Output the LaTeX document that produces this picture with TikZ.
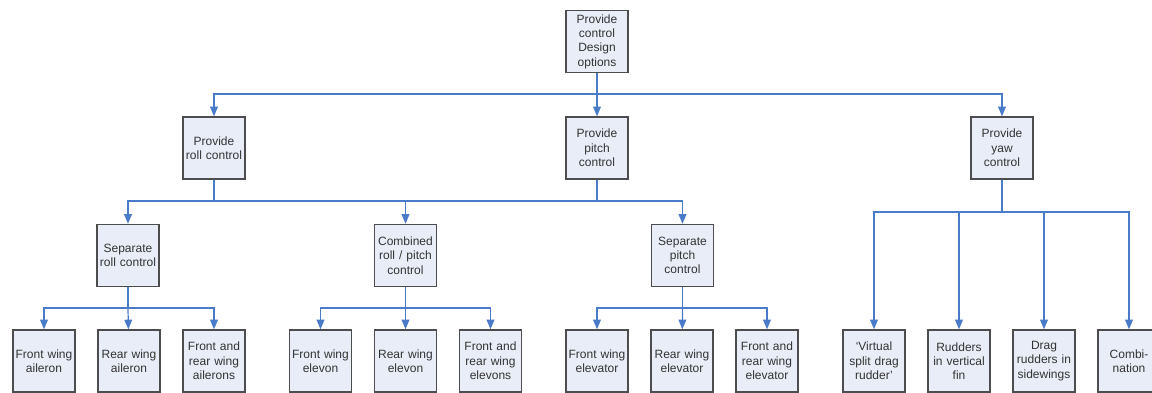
\documentclass[tikz,border=0pt]{standalone}
\usepackage{fontspec}
\setmainfont{Liberation Sans}
\usetikzlibrary{arrows}
\usetikzlibrary{positioning}

\definecolor{boxfill}{HTML}{E8EDF8}
\definecolor{boxline}{HTML}{4D4D4D}
\definecolor{boxtext}{HTML}{333333}
\definecolor{linkblue}{HTML}{4A7BC8}

\tikzset{
  box/.style={draw=boxline, line width=1.6pt, fill=boxfill, text=boxtext,
    text width=60pt, minimum height=62pt, inner sep=1pt, align=center,
    font=\fontsize{12}{14.3}\selectfont},
  link/.style={draw=linkblue, line width=1.2pt, -triangle 45},
  bus/.style={draw=linkblue, line width=1.2pt}
}

\begin{document}
\begin{tikzpicture}[x=1pt, y=-1pt]
    \useasboundingbox (0,0) rectangle (1152,392);
    \clip (0,0) rectangle (1152,392);

    % top level
    \node [box] (design) at (597,41.5) {Provide\\control\\Design\\options};

    \node [box] (roll) at (214,148) {Provide\\roll control};
    \node [box] (pitch) at (597,148) {Provide\\pitch\\control};
    \node [box] (yaw) at (1002,148) {Provide\\yaw\\control};

    % roll / pitch options
    \node [box] (sroll) at (128,255.5) {Separate\\roll control};
    \node [box] (comb) at (405.5,255.5) {Combined\\roll / pitch\\control};
    \node [box] (spitch) at (682.5,255.5) {Separate\\pitch\\control};

    \node [box] (fwail) at (44,361) {Front wing\\aileron};
    \node [box, right=21.4pt of fwail] (rwail) {Rear wing\\aileron};
    \node [box, right=21.4pt of rwail] (frail) {Front and\\rear wing\\ailerons};

    \node [box] (fwelv) at (320.5,361) {Front wing\\elevon};
    \node [box, right=21.4pt of fwelv] (rwelv) {Rear wing\\elevon};
    \node [box, right=21.4pt of rwelv] (frelv) {Front and\\rear wing\\elevons};

    \node [box] (fwelt) at (597,361) {Front wing\\elevator};
    \node [box, right=21.4pt of fwelt] (rwelt) {Rear wing\\elevator};
    \node [box, right=21.4pt of rwelt] (frelt) {Front and\\rear wing\\elevator};

    % yaw options
    \node [box] (virt) at (874,361) {‘Virtual\\split drag\\rudder’};
    \node [box, right=21.4pt of virt] (fin) {Rudders\\in vertical\\fin};
    \node [box, right=21.4pt of fin] (side) {Drag\\rudders in\\sidewings};
    \node [box, right=21.4pt of side] (combi) {Combi-\\nation};

    % bus points
    \coordinate (j0) at (597,94);
    \coordinate (j1) at (214,201);
    \coordinate (j2) at (597,201);
    \coordinate (j3) at (1002,212);
    \coordinate (j4) at (128,308);
    \coordinate (j5) at (405.5,308);
    \coordinate (j6) at (682.5,308);

    \draw [bus] (design) -- (j0);
    \draw [link] (j0) -| (roll);
    \draw [link] (j0) -- (pitch);
    \draw [link] (j0) -| (yaw);

    \draw [bus] (roll) -- (j1);
    \draw [bus] (pitch) -- (j2);
    \draw [bus] (j1) -- (j2);
    \draw [link] (j1) -| (sroll);
    \draw [link] (j1) -| (comb);
    \draw [link] (j2) -| (spitch);

    \draw [bus] (sroll) -- (j4);
    \draw [link] (j4) -| (fwail);
    \draw [link] (j4) -- (rwail);
    \draw [link] (j4) -| (frail);

    \draw [bus] (comb) -- (j5);
    \draw [link] (j5) -| (fwelv);
    \draw [link] (j5) -- (rwelv);
    \draw [link] (j5) -| (frelv);

    \draw [bus] (spitch) -- (j6);
    \draw [link] (j6) -| (fwelt);
    \draw [link] (j6) -- (rwelt);
    \draw [link] (j6) -| (frelt);

    \draw [bus] (yaw) -- (j3);
    \draw [link] (j3) -| (virt);
    \draw [link] (j3) -| (fin);
    \draw [link] (j3) -| (side);
    \draw [link] (j3) -| (combi);
\end{tikzpicture}
\end{document}
